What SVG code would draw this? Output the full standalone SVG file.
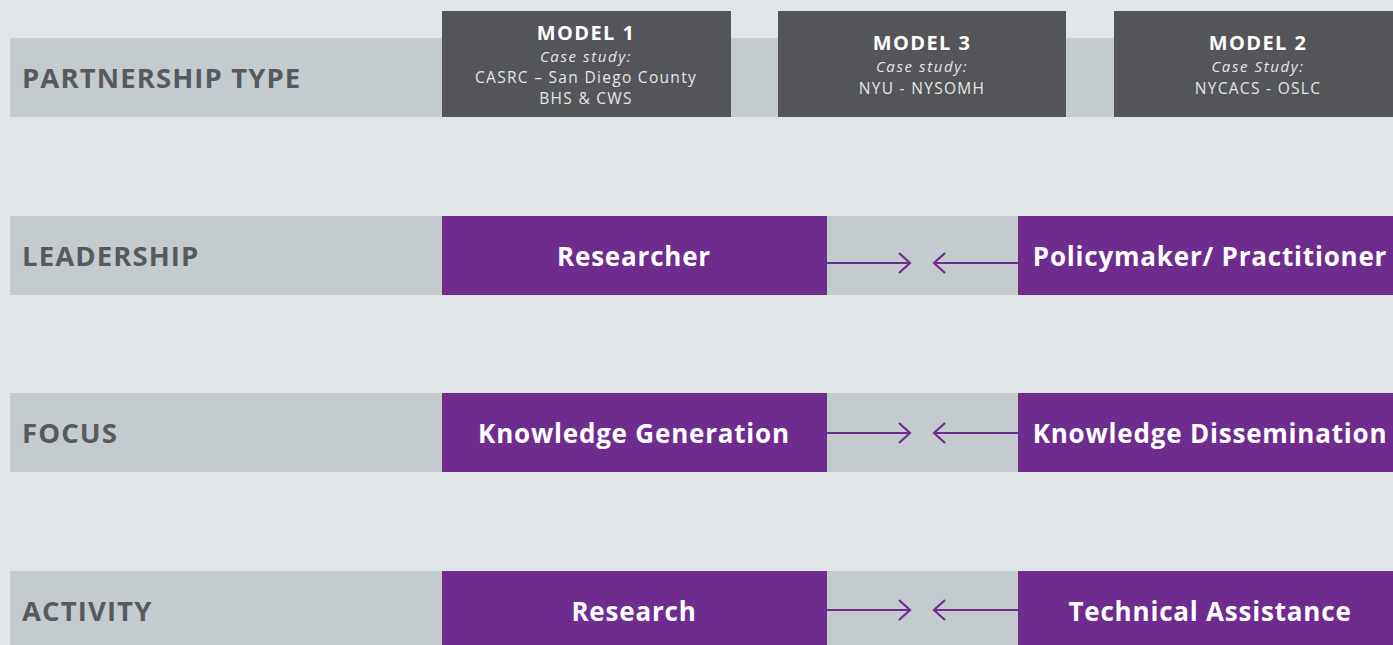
<svg xmlns="http://www.w3.org/2000/svg" width="1393" height="645" viewBox="0 0 1393 645">
<defs>
<style>
.band{fill:#C4CBCE}
.dark{fill:#545558}
.purple{fill:#6F2C8F}
.lab{font-family:"Open Sans","Liberation Sans",sans-serif;font-weight:700;font-size:27.5px;letter-spacing:1.1px;fill:#58595C}
.ptxt{font-family:"Open Sans","Liberation Sans",sans-serif;font-weight:700;font-size:26px;letter-spacing:0.8px;fill:#FFFFFF;text-anchor:middle}
.mt{font-family:"Open Sans","Liberation Sans",sans-serif;font-weight:700;font-size:20px;letter-spacing:1.4px;fill:#FFFFFF;text-anchor:middle}
.cs{font-family:"Open Sans","Liberation Sans",sans-serif;font-style:italic;font-size:15px;letter-spacing:1.6px;fill:#E6E6E8;text-anchor:middle}
.nm{font-family:"Open Sans","Liberation Sans",sans-serif;font-size:15.5px;letter-spacing:1.3px;fill:#E6E6E8;text-anchor:middle}
.arr{stroke:#6F2C8F;stroke-width:2.2;fill:none}
</style>
</defs>
<rect width="1393" height="645" fill="#E1E5E8"/>
<g id="row-partnership">
<rect class="band" x="10" y="38" width="1383" height="79"/>
<text class="lab" x="22" y="88">PARTNERSHIP TYPE</text>
</g>
<g id="model1">
<rect class="dark" x="442" y="11" width="289" height="106"/>
<text class="mt" x="586" y="40">MODEL 1</text>
<text class="cs" x="586" y="62">Case study:</text>
<text class="nm" x="586" y="83">CASRC – San Diego County</text>
<text class="nm" x="586" y="104">BHS &amp; CWS</text>
</g>
<g id="model3">
<rect class="dark" x="778" y="11" width="288" height="106"/>
<text class="mt" x="922" y="50">MODEL 3</text>
<text class="cs" x="922" y="72">Case study:</text>
<text class="nm" x="922" y="94">NYU - NYSOMH</text>
</g>
<g id="model2">
<rect class="dark" x="1114" y="11" width="290" height="106"/>
<text class="mt" x="1258" y="50">MODEL 2</text>
<text class="cs" x="1258" y="72">Case Study:</text>
<text class="nm" x="1258" y="94">NYCACS - OSLC</text>
</g>
<g id="row-leadership">
<rect class="band" x="10" y="216" width="1383" height="79"/>
<text class="lab" x="22" y="266">LEADERSHIP</text>
<rect class="purple" x="442" y="216" width="385" height="79"/>
<text class="ptxt" x="634" y="266">Researcher</text>
<rect class="purple" x="1018" y="216" width="385" height="79"/>
<text class="ptxt" x="1210" y="266">Policymaker/ Practitioner</text>
</g>
<g id="row-focus">
<rect class="band" x="10" y="393" width="1383" height="79"/>
<text class="lab" x="22" y="443">FOCUS</text>
<rect class="purple" x="442" y="393" width="385" height="79"/>
<text class="ptxt" x="634" y="443">Knowledge Generation</text>
<rect class="purple" x="1018" y="393" width="385" height="79"/>
<text class="ptxt" x="1210" y="443">Knowledge Dissemination</text>
</g>
<g id="row-activity">
<rect class="band" x="10" y="571" width="1383" height="79"/>
<text class="lab" x="22" y="621">ACTIVITY</text>
<rect class="purple" x="442" y="571" width="385" height="79"/>
<text class="ptxt" x="634" y="621">Research</text>
<rect class="purple" x="1018" y="571" width="385" height="79"/>
<text class="ptxt" x="1210" y="621">Technical Assistance</text>
</g>
<g id="connectors">
<path class="arr" d="M827 263H910M899 253L910 263L899 273"/>
<path class="arr" d="M1018 263H934M945 253L934 263L945 273"/>
<path class="arr" d="M827 433H910M899 423L910 433L899 443"/>
<path class="arr" d="M1018 433H934M945 423L934 433L945 443"/>
<path class="arr" d="M827 610H910M899 600L910 610L899 620"/>
<path class="arr" d="M1018 610H934M945 600L934 610L945 620"/>
</g>
</svg>
